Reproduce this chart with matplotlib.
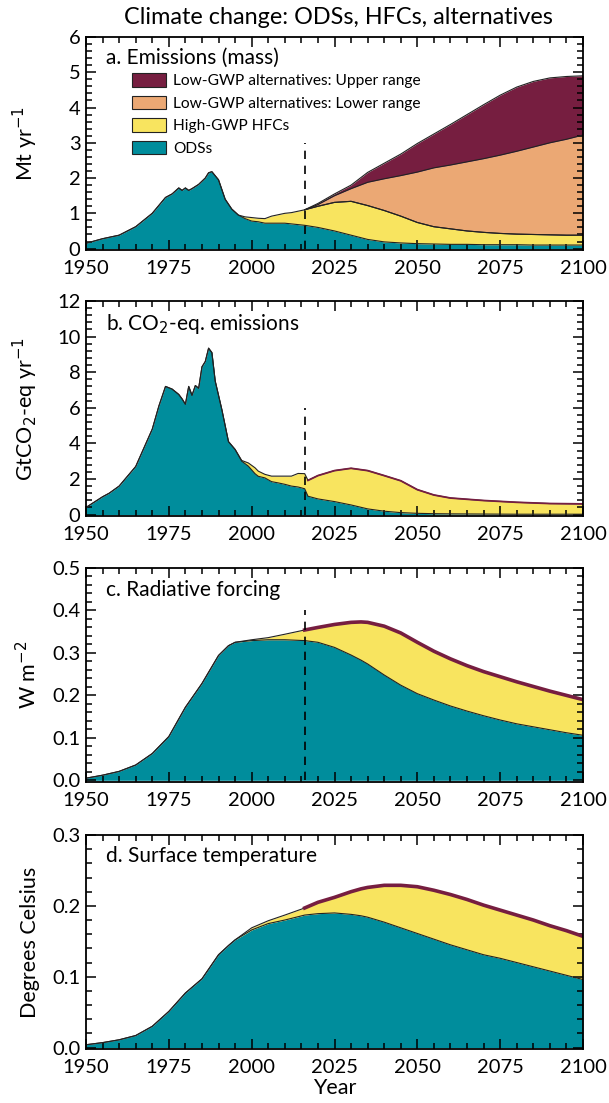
import numpy as np
import matplotlib
matplotlib.use("Agg")
import matplotlib.pyplot as plt
from matplotlib.patches import Patch
from matplotlib.ticker import MultipleLocator

plt.rcParams["font.family"] = ["Lato", "DejaVu Sans"]

# ---- colours ----
c_ods = "#008D9C"
c_hfc = "#F8E45F"
c_low = "#EBA874"
c_up = "#761E40"
c_edge = "#222222"

# ---- a. emissions (mass), Mt/yr ----
yrs_a = [1950, 1955, 1960, 1965, 1970, 1974, 1976, 1978, 1979, 1980, 1981, 1982,
         1984, 1986, 1987, 1988, 1990, 1992, 1994, 1996, 1998, 2000, 2002, 2004,
         2006, 2008, 2010, 2012, 2014, 2016, 2020, 2025, 2030, 2035, 2040, 2045,
         2050, 2055, 2060, 2065, 2070, 2075, 2080, 2085, 2090, 2095, 2100]
ods_a = [0.15, 0.28, 0.38, 0.62, 1.0, 1.45, 1.55, 1.72, 1.65, 1.72, 1.65, 1.7,
         1.82, 2.0, 2.15, 2.18, 1.95, 1.4, 1.12, 0.95, 0.85, 0.78, 0.76, 0.72,
         0.72, 0.72, 0.72, 0.7, 0.68, 0.66, 0.6, 0.5, 0.38, 0.26, 0.19, 0.16,
         0.14, 0.13, 0.12, 0.12, 0.11, 0.11, 0.11, 0.1, 0.1, 0.1, 0.1]
hfc_a = [0, 0, 0, 0, 0, 0, 0, 0, 0, 0, 0, 0,
         0, 0, 0, 0, 0, 0, 0, 0, 0.05, 0.10, 0.10, 0.13,
         0.20, 0.24, 0.28, 0.32, 0.38, 0.44, 0.60, 0.81, 0.96, 0.96, 0.89, 0.76,
         0.60, 0.49, 0.44, 0.38, 0.35, 0.32, 0.30, 0.30, 0.29, 0.28, 0.28]
# low-GWP alternatives, from 2016 on
yrs_fut = [2016, 2020, 2025, 2030, 2035, 2040, 2045, 2050, 2055, 2060, 2065,
           2070, 2075, 2080, 2085, 2090, 2095, 2100]
low_lower_a = [0, 0.05, 0.19, 0.36, 0.66, 0.90, 1.15, 1.43, 1.67, 1.81, 1.96,
               2.09, 2.22, 2.35, 2.48, 2.61, 2.72, 2.84]
low_upper_extra_a = [0, 0.03, 0.05, 0.10, 0.28, 0.44, 0.61, 0.81, 0.96, 1.15, 1.34,
                     1.53, 1.70, 1.82, 1.86, 1.84, 1.78, 1.68]

# ---- b. CO2-eq emissions, GtCO2-eq/yr ----
yrs_b = [1950, 1955, 1957, 1960, 1965, 1970, 1972, 1974, 1976, 1978, 1979, 1980,
         1981, 1982, 1983, 1984, 1985, 1986, 1987, 1988, 1989, 1991, 1993, 1995,
         1997, 1999, 2001, 2002, 2004, 2006, 2008, 2010, 2012, 2014, 2016, 2017,
         2020, 2025, 2030, 2035, 2040, 2045, 2050, 2055, 2060, 2070, 2080, 2090, 2100]
ods_b = [0.4, 1.0, 1.2, 1.6, 2.7, 4.8, 6.1, 7.2, 7.05, 6.75, 6.5, 6.2,
         7.2, 6.7, 7.25, 7.1, 8.3, 8.6, 9.35, 9.1, 7.5, 5.9, 4.1, 3.66,
         3.0, 2.72, 2.3, 2.15, 2.06, 1.85, 1.78, 1.7, 1.6, 1.55, 1.45, 1.03,
         0.88, 0.73, 0.54, 0.32, 0.19, 0.11, 0.07, 0.05, 0.04, 0.03, 0.02, 0.02, 0.02]
hfc_b = [0, 0, 0, 0, 0, 0, 0, 0, 0, 0, 0, 0,
         0, 0, 0, 0, 0, 0, 0, 0, 0, 0, 0, 0,
         0.04, 0.18, 0.33, 0.29, 0.20, 0.31, 0.38, 0.46, 0.56, 0.76, 0.85, 0.89,
         1.31, 1.74, 2.06, 2.15, 2.0, 1.79, 1.33, 1.05, 0.89, 0.76, 0.67, 0.60, 0.58]

# ---- c. radiative forcing (W/m2) and d. surface temperature (degC) ----
yrs_cd = [1950, 1955, 1960, 1965, 1970, 1975, 1980, 1985, 1990, 1993, 1995,
          2000, 2005, 2010, 2016, 2020, 2025, 2030, 2033, 2035, 2040, 2045,
          2050, 2055, 2060, 2065, 2070, 2075, 2080, 2085, 2090, 2095, 2100]
ods_c = [0.005, 0.012, 0.021, 0.036, 0.063, 0.103, 0.172, 0.228, 0.294, 0.317, 0.325,
         0.329, 0.331, 0.331, 0.329, 0.325, 0.313, 0.295, 0.283, 0.274, 0.248, 0.224,
         0.204, 0.189, 0.175, 0.163, 0.152, 0.142, 0.133, 0.126, 0.119, 0.112, 0.106]
hfc_c = [0, 0, 0, 0, 0, 0, 0, 0, 0, 0, 0,
         0.002, 0.005, 0.013, 0.025, 0.035, 0.054, 0.077, 0.090, 0.098, 0.115, 0.123,
         0.121, 0.115, 0.111, 0.107, 0.104, 0.102, 0.099, 0.095, 0.091, 0.088, 0.084]
ods_d = [0.004, 0.007, 0.011, 0.017, 0.030, 0.051, 0.077, 0.097, 0.131, 0.144, 0.152,
         0.166, 0.175, 0.180, 0.187, 0.189, 0.190, 0.188, 0.186, 0.184, 0.177, 0.169,
         0.161, 0.153, 0.145, 0.138, 0.131, 0.126, 0.120, 0.114, 0.108, 0.102, 0.096]
hfc_d = [0, 0, 0, 0, 0, 0, 0, 0, 0, 0, 0,
         0.003, 0.004, 0.007, 0.010, 0.016, 0.022, 0.032, 0.038, 0.042, 0.052, 0.060,
         0.066, 0.069, 0.071, 0.071, 0.070, 0.068, 0.067, 0.066, 0.064, 0.063, 0.061]

year_ticks = [1950, 1975, 2000, 2025, 2050, 2075, 2100]
scen_year = 2016


def style_axes(ax, ymax, ymin, major, minor, fmt):
    ax.set_xlim(1950, 2100)
    ax.set_ylim(ymin, ymax)
    ax.set_xticks(year_ticks)
    ax.xaxis.set_minor_locator(MultipleLocator(5))
    ax.yaxis.set_major_locator(MultipleLocator(major))
    ax.yaxis.set_minor_locator(MultipleLocator(minor))
    ax.yaxis.set_major_formatter(plt.FormatStrFormatter(fmt))
    ax.tick_params(which="both", direction="in", top=True, right=True, width=1.1)
    ax.tick_params(which="major", length=7)
    ax.tick_params(which="minor", length=4)
    ax.tick_params(axis="x", labelsize=14.5, pad=7)
    ax.tick_params(axis="y", labelsize=14.5, pad=4)
    for s in ax.spines.values():
        s.set_linewidth(1.3)


def stack_two(ax, yrs, ods, hfc):
    yrs = np.array(yrs)
    ods = np.array(ods)
    top = ods + np.array(hfc)
    ax.fill_between(yrs, 0, ods, color=c_ods, lw=0)
    ax.fill_between(yrs, ods, top, color=c_hfc, lw=0)
    ax.plot(yrs, ods, color=c_edge, lw=0.8)
    ax.plot(yrs, top, color=c_edge, lw=0.8)
    return yrs, top


fig = plt.figure(figsize=(6.09, 11.03), dpi=100)
L, W = 86 / 609, 497 / 609
ax_a = fig.add_axes([L, 1 - 250 / 1103, W, 213 / 1103])
ax_b = fig.add_axes([L, 1 - 516 / 1103, W, 215 / 1103])
ax_c = fig.add_axes([L, 1 - 782 / 1103, W, 214 / 1103])
ax_d = fig.add_axes([L, 1 - 1049 / 1103, W, 214 / 1103])

fig.text(0.555, 1 - 18 / 1103, "Climate change: ODSs, HFCs, alternatives",
         ha="center", va="center", fontsize=16.8)

# ---- panel a ----
yrs, top_a = stack_two(ax_a, yrs_a, ods_a, hfc_a)
fut = yrs >= scen_year
base = top_a[fut]
lower_top = base + np.array(low_lower_a)
upper_top = lower_top + np.array(low_upper_extra_a)
ax_a.fill_between(yrs_fut, base, lower_top, color=c_low, lw=0)
ax_a.fill_between(yrs_fut, lower_top, upper_top, color=c_up, lw=0)
ax_a.plot(yrs_fut, lower_top, color=c_edge, lw=0.8)
ax_a.plot(yrs_fut, upper_top, color=c_edge, lw=0.8)
ax_a.plot(yrs_fut, base, color=c_edge, lw=0.8)
ax_a.vlines(scen_year, 0, 3, colors="k", linestyles=(0, (5, 4)), lw=1.2)
style_axes(ax_a, 6, -0.04, 1, 0.2, "%d")
ax_a.set_ylabel("Mt yr$^{-1}$", fontsize=15.5)
ax_a.text(0.04, 0.9, "a. Emissions (mass)", transform=ax_a.transAxes,
          fontsize=15, va="center")
handles = [Patch(facecolor=c_up, edgecolor=c_edge, lw=0.8),
           Patch(facecolor=c_low, edgecolor=c_edge, lw=0.8),
           Patch(facecolor=c_hfc, edgecolor=c_edge, lw=0.8),
           Patch(facecolor=c_ods, edgecolor=c_edge, lw=0.8)]
labels = ["Low-GWP alternatives: Upper range", "Low-GWP alternatives: Lower range",
          "High-GWP HFCs", "ODSs"]
ax_a.legend(handles, labels, loc="upper left", bbox_to_anchor=(0.092, 0.83),
            frameon=False, fontsize=11.2, borderpad=0, borderaxespad=0,
            handlelength=2.2, handleheight=0.95, labelspacing=0.48, handletextpad=0.45)

# ---- panel b ----
yrs, top_b = stack_two(ax_b, yrs_b, ods_b, hfc_b)
after = yrs > scen_year
ax_b.plot(yrs[after], top_b[after], color=c_up, lw=1.3)
ax_b.vlines(scen_year, 0, 6, colors="k", linestyles=(0, (5, 4)), lw=1.2)
style_axes(ax_b, 12, -0.08, 2, 0.4, "%d")
ax_b.set_ylabel("GtCO$_2$-eq yr$^{-1}$", fontsize=15.5)
ax_b.text(0.04, 0.895, "b. CO$_2$-eq. emissions", transform=ax_b.transAxes,
          fontsize=15, va="center")

# ---- panel c ----
yrs, top_c = stack_two(ax_c, yrs_cd, ods_c, hfc_c)
after = yrs >= scen_year
ax_c.plot(yrs[after], top_c[after], color=c_up, lw=2.6)
ax_c.vlines(scen_year, 0, 0.4, colors="k", linestyles=(0, (5, 4)), lw=1.2)
style_axes(ax_c, 0.5, -0.004, 0.1, 0.02, "%.1f")
ax_c.set_ylabel("W m$^{-2}$", fontsize=15.5)
ax_c.text(0.04, 0.895, "c. Radiative forcing", transform=ax_c.transAxes,
          fontsize=15, va="center")

# ---- panel d ----
yrs, top_d = stack_two(ax_d, yrs_cd, ods_d, hfc_d)
ax_d.plot(yrs[after], top_d[after], color=c_up, lw=2.6)
style_axes(ax_d, 0.3, -0.002, 0.1, 0.02, "%.1f")
ax_d.set_ylabel("Degrees Celsius", fontsize=15.5)
ax_d.set_xlabel("Year", fontsize=15.5)
ax_d.xaxis.set_label_coords(0.5, -0.135)
ax_d.text(0.04, 0.9, "d. Surface temperature", transform=ax_d.transAxes,
          fontsize=15, va="center")

for ax in (ax_a, ax_b, ax_c, ax_d):
    ax.yaxis.set_label_coords(-0.093, 0.5)

fig.savefig("out.png", dpi=100)
